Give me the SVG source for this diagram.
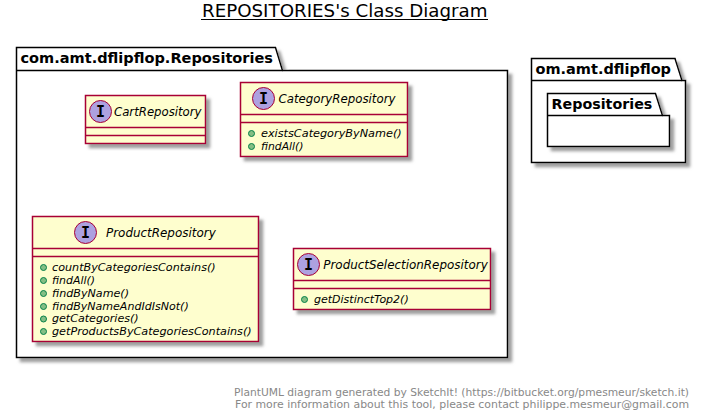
<svg xmlns="http://www.w3.org/2000/svg" width="701" height="415" viewBox="0 0 701 415">
<defs>
<filter id="sh" x="-10%" y="-10%" width="125%" height="125%"><feGaussianBlur in="SourceAlpha" stdDeviation="1.800"/><feOffset dx="4" dy="4"/><feColorMatrix type="matrix" values="0 0 0 0 0.35 0 0 0 0 0.35 0 0 0 0 0.35 0 0 0 1 0"/><feMerge><feMergeNode/><feMergeNode in="SourceGraphic"/></feMerge></filter>
</defs>
<style>
text{font-family:"DejaVu Sans",sans-serif}
.pkg{fill:#fff;stroke:#000;stroke-width:1.5;filter:url(#sh)}
.pl{font-size:14px;font-weight:bold;fill:#000}
.box{fill:#FEFECE;stroke:#A80036;stroke-width:1.5;filter:url(#sh)}
.sep{stroke:#A80036;stroke-width:1.5;fill:none}
.circ{fill:#ADA1E0;stroke:#A80036;stroke-width:1}
.i{font-family:"DejaVu Sans Mono",monospace;font-size:15px;font-weight:bold;fill:#000}
.cn{font-size:12px;font-style:italic;fill:#000}
.m{font-size:11px;font-style:italic;fill:#000}
.dot{fill:#84BE84;stroke:#038048;stroke-width:1}
.ft{font-size:10px;fill:#888}
</style>
<text x="202" y="17" font-size="18" fill="#000" textLength="285.500" lengthAdjust="spacingAndGlyphs">REPOSITORIES's Class Diagram</text>
<line x1="201" y1="19.500" x2="488" y2="19.500" stroke="#000" stroke-width="1"/>
<g id="pkg-repositories">
<path class="pkg" d="M16.500 70.500V47.500H275.500L282.500 70.500H507.500V357.500H16.500Z"/>
<path d="M16.500 70.500H282.500" stroke="#000" stroke-width="1.500" fill="none"/>
<text class="pl" x="20.500" y="63" textLength="252.500" lengthAdjust="spacingAndGlyphs">com.amt.dflipflop.Repositories</text>
</g>
<g id="pkg-om">
<path class="pkg" d="M531.500 80.500V58.500H675L682 80.500H685.500V162.500H531.500Z"/>
<path d="M531.500 80.500H682" stroke="#000" stroke-width="1.500" fill="none"/>
<text class="pl" x="535.500" y="73.500" textLength="135.500" lengthAdjust="spacingAndGlyphs">om.amt.dflipflop</text>
</g>
<g id="pkg-inner">
<path class="pkg" d="M547.500 115.500V93.500H655.500L662.500 115.500H669.500V146.500H547.500Z"/>
<path d="M547.500 115.500H662.500" stroke="#000" stroke-width="1.500" fill="none"/>
<text class="pl" x="551.500" y="108.500" textLength="100.800" lengthAdjust="spacingAndGlyphs">Repositories</text>
</g>
<g id="CartRepository">
<rect class="box" x="85.500" y="95.500" width="120" height="48"/>
<path class="sep" d="M85.500 127.500H205.500M85.500 135.500H205.500"/>
<circle class="circ" cx="100.500" cy="111.500" r="11"/>
<text class="i" x="100.500" y="117" text-anchor="middle">I</text>
<text class="cn" x="114" y="116" textLength="87.500" lengthAdjust="spacingAndGlyphs">CartRepository</text>
</g>
<g id="CategoryRepository">
<rect class="box" x="240.500" y="82.500" width="167" height="74"/>
<path class="sep" d="M240.500 114.500H407.500M240.500 122.500H407.500"/>
<circle class="circ" cx="263.500" cy="98.500" r="11"/>
<text class="i" x="263.500" y="104" text-anchor="middle">I</text>
<text class="cn" x="278.500" y="103" textLength="117" lengthAdjust="spacingAndGlyphs">CategoryRepository</text>
<circle class="dot" cx="251.500" cy="133.500" r="3"/>
<text class="m" x="261" y="137" textLength="140.700" lengthAdjust="spacingAndGlyphs">existsCategoryByName()</text>
<circle class="dot" cx="251.500" cy="146.500" r="3"/>
<text class="m" x="261" y="150" textLength="42.500" lengthAdjust="spacingAndGlyphs">findAll()</text>
</g>
<g id="ProductRepository">
<rect class="box" x="32.500" y="216.500" width="226" height="125"/>
<path class="sep" d="M32.500 248.500H258.500M32.500 256.500H258.500"/>
<circle class="circ" cx="85.500" cy="232.500" r="11"/>
<text class="i" x="85.500" y="238" text-anchor="middle">I</text>
<text class="cn" x="106" y="237" textLength="109.700" lengthAdjust="spacingAndGlyphs">ProductRepository</text>
<circle class="dot" cx="43.500" cy="267.500" r="3"/>
<text class="m" x="52" y="271" textLength="163.700" lengthAdjust="spacingAndGlyphs">countByCategoriesContains()</text>
<circle class="dot" cx="43.500" cy="280.500" r="3"/>
<text class="m" x="52" y="284" textLength="43" lengthAdjust="spacingAndGlyphs">findAll()</text>
<circle class="dot" cx="43.500" cy="293.500" r="3"/>
<text class="m" x="52" y="297" textLength="77" lengthAdjust="spacingAndGlyphs">findByName()</text>
<circle class="dot" cx="43.500" cy="306.500" r="3"/>
<text class="m" x="52" y="310" textLength="136.700" lengthAdjust="spacingAndGlyphs">findByNameAndIdIsNot()</text>
<circle class="dot" cx="43.500" cy="319" r="3"/>
<text class="m" x="52" y="322" textLength="86.700" lengthAdjust="spacingAndGlyphs">getCategories()</text>
<circle class="dot" cx="43.500" cy="331.500" r="3"/>
<text class="m" x="52" y="335" textLength="199.700" lengthAdjust="spacingAndGlyphs">getProductsByCategoriesContains()</text>
</g>
<g id="ProductSelectionRepository">
<rect class="box" x="293.500" y="248.500" width="197" height="61"/>
<path class="sep" d="M293.500 280.500H490.500M293.500 288.500H490.500"/>
<circle class="circ" cx="308.500" cy="264.500" r="11"/>
<text class="i" x="308.500" y="270" text-anchor="middle">I</text>
<text class="cn" x="323.300" y="269" textLength="164.400" lengthAdjust="spacingAndGlyphs">ProductSelectionRepository</text>
<circle class="dot" cx="304.500" cy="299.500" r="3"/>
<text class="m" x="314" y="303" textLength="94.700" lengthAdjust="spacingAndGlyphs">getDistinctTop2()</text>
</g>
<g id="connectors"/>
<text class="ft" x="234" y="396" textLength="455" lengthAdjust="spacingAndGlyphs">PlantUML diagram generated by SketchIt! (https://bitbucket.org/pmesmeur/sketch.it)</text>
<text class="ft" x="235" y="408" textLength="454" lengthAdjust="spacingAndGlyphs">For more information about this tool, please contact philippe.mesmeur@gmail.com</text>
</svg>
